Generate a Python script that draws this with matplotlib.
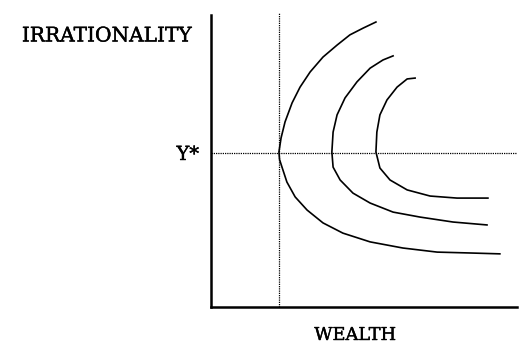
import matplotlib
matplotlib.use("Agg")
import matplotlib.pyplot as plt
import matplotlib.patheffects as pe

# wealth / irrationality curves (axes run 0..100)
c1_x = [53.9, 49.7, 45.4, 41.2, 36.6, 32.4, 29.1, 26.5, 24.2, 22.9, 22.2, 22.4, 23.2, 24.8, 27.5,
        31.4, 36.6, 43.1, 52.0, 62.7, 73.9, 84.6, 94.4]
c1_y = [97.6, 95.5, 93.2, 89.7, 85.6, 80.5, 75.3, 69.9, 63.4, 57.9, 53.1, 50.5, 47.9, 42.8, 37.7,
        33.2, 28.8, 25.3, 22.3, 20.2, 18.8, 18.5, 18.2]

c2_x = [59.5, 56.2, 52.0, 47.7, 43.8, 41.2, 39.9, 39.5, 39.9, 42.2, 46.4, 52.0, 59.5, 68.3, 79.1, 90.2]
c2_y = [86.0, 84.6, 81.8, 77.1, 71.6, 65.8, 59.9, 53.1, 47.9, 43.5, 39.0, 35.6, 32.5, 30.8, 29.1, 28.1]

c3_x = [66.7, 64.1, 60.8, 57.5, 55.2, 54.2, 53.9, 55.2, 58.5, 64.1, 71.6, 80.4, 90.5]
c3_y = [78.4, 78.1, 75.3, 70.9, 65.8, 59.9, 53.1, 47.6, 43.5, 40.1, 38.0, 37.3, 37.3]

wealth_star = 22.3
y_star = 52.9

fig = plt.figure(figsize=(5.19, 3.47), dpi=100)
ax = fig.add_axes([211 / 519, 40 / 347, 306 / 519, 292 / 347])
ax.set_xlim(0, 100)
ax.set_ylim(0, 100)

for s in ["top", "right"]:
    ax.spines[s].set_visible(False)
ax.spines["left"].set_linewidth(1.8)
ax.spines["bottom"].set_linewidth(1.8)
ax.set_xticks([])
ax.set_yticks([])

for cx, cy in [(c1_x, c1_y), (c2_x, c2_y), (c3_x, c3_y)]:
    ax.plot(cx, cy, color="black", lw=1.2, solid_joinstyle="round")

ax.plot([wealth_star, wealth_star], [0, 100.7], color="black", lw=0.9,
        linestyle=(0, (1, 0.8)), clip_on=False)
ax.plot([0, 100], [y_star, y_star], color="black", lw=0.9,
        linestyle=(0, (1, 0.8)))

# slightly heavier text, the original is a dark schoolbook face
fnt = dict(family="DejaVu Serif", color="black",
           path_effects=[pe.withStroke(linewidth=0.3, foreground="black")])
fig.text(192 / 519, 1 - 36 / 347, "IRRATIONALITY", ha="right", va="center", fontsize=14.5, **fnt)
fig.text(199 / 519, 1 - 155 / 347, "Y*", ha="right", va="center", fontsize=14, **fnt)
fig.text(355 / 519, 1 - 335 / 347, "WEALTH", ha="center", va="center", fontsize=12.8, **fnt)

fig.savefig("out.png", dpi=100)
